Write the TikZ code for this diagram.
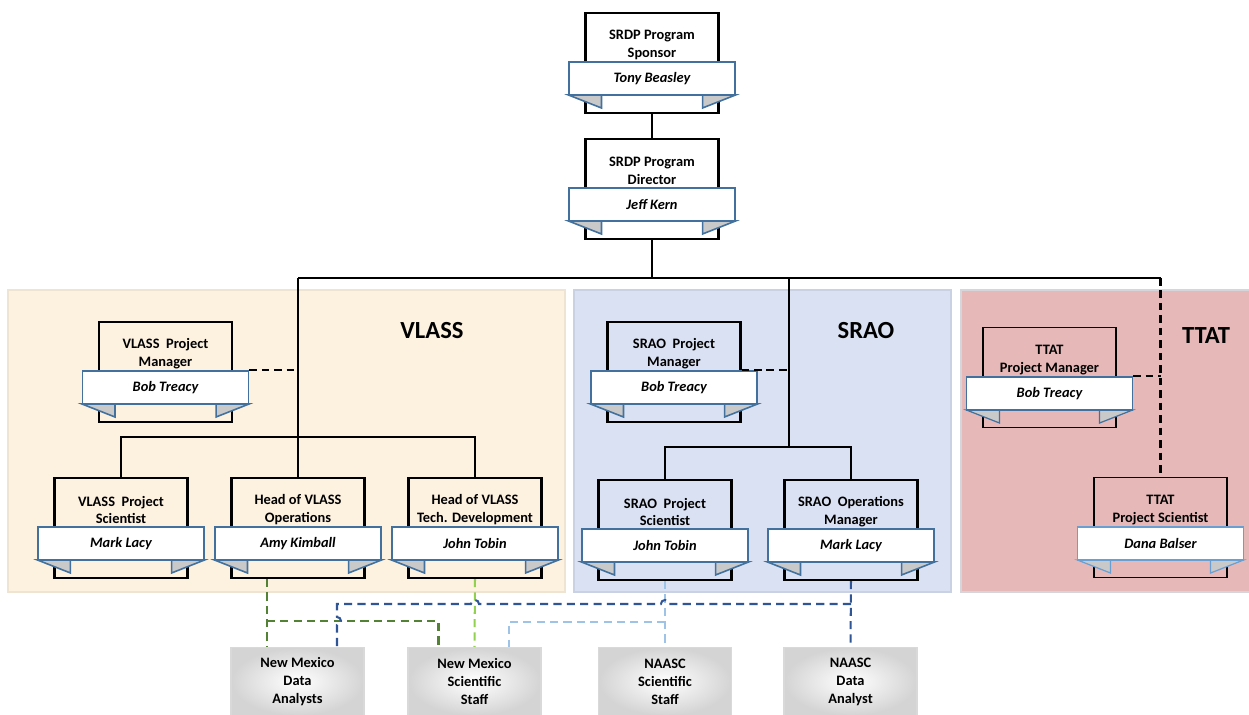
\documentclass[tikz,border=0pt]{standalone}
\usepackage{fontspec}
\setmainfont{Carlito}
\usetikzlibrary{calc}
\definecolor{ribbonblue}{HTML}{41719C}
\definecolor{ribbonlight}{HTML}{6A9FD2}
\definecolor{tailgray}{HTML}{C9C9C9}
\definecolor{vlassbg}{HTML}{FDF1E0}
\definecolor{vlassedge}{HTML}{EFE3D2}
\definecolor{sraobg}{HTML}{DAE1F2}
\definecolor{sraoedge}{HTML}{C9D1E3}
\definecolor{ttatbg}{HTML}{E6B9B8}
\definecolor{ttatedge}{HTML}{D6D6DA}
\definecolor{dkgreen}{HTML}{548235}
\definecolor{limegreen}{HTML}{92D050}
\definecolor{ltblue}{HTML}{9DC3E6}
\definecolor{dkblue}{HTML}{2F5597}
\def\boxlw{1.2pt}
\def\riblw{0.9pt}
\def\ribcol{ribbonblue}
\tikzset{
  txt/.style={font=\bfseries\fontsize{8.2}{10.2}\selectfont},
  cardbox/.style={draw=black, line width=\boxlw, minimum width=2.66cm, minimum height=2cm, inner sep=0pt, anchor=north},
  cardtitle/.style={txt, align=center, inner sep=0pt},
  ribbon/.style={draw=\ribcol, fill=white, line width=\riblw, minimum width=3.32cm, minimum height=0.66cm, inner sep=0pt, font=\bfseries\itshape\fontsize{8.2}{10.2}\selectfont},
  tail/.style={fill=tailgray, draw=\ribcol, line width=\riblw, line join=miter},
  conn/.style={draw=black, line width=1.25pt},
  blkdash/.style={draw=black, line width=1.2pt, dash pattern=on 4.3pt off 2.8pt},
  coldash/.style={line width=1.15pt, dash pattern=on 4.6pt off 3pt},
  gdash/.style={coldash, draw=dkgreen},
  ldash/.style={coldash, draw=limegreen},
  lbdash/.style={coldash, draw=ltblue},
  dbdash/.style={coldash, draw=dkblue},
  staffbox/.style={txt, align=center, anchor=north, minimum width=2.66cm, minimum height=1.36cm, inner sep=0pt, draw=black!15, line width=0.6pt, inner color=white, outer color=black!17},
  paneltitle/.style={font=\bfseries\fontsize{14}{16}\selectfont, inner sep=0pt}
}
\newcommand{\orgcard}[5]{%
  \node[cardbox] (#1) at (#2,#3) {};
  \node[cardtitle] (#1-t) at ($(#1.north)+(0,33)$) {#4};
  \coordinate (#1-rl) at ($(#1.north west)+(-16,83)$);
  \coordinate (#1-rr) at ($(#1.north east)+(16,83)$);
  \draw[tail] (#1-rl) -- ++(33,13) -- ++(0,-13) -- cycle;
  \draw[tail] (#1-rr) -- ++(-33,13) -- ++(0,-13) -- cycle;
  \node[ribbon] (#1-r) at ($(#1.north)+(0,66.5)$) {#5};
}
\begin{document}
\begin{tikzpicture}[x=0.02cm,y=-0.02cm]
\useasboundingbox (0,0) rectangle (1249,715);
\fill[white] (0,0) rectangle (1249,715);
% panels
\draw[fill=vlassbg, draw=vlassedge, line width=0.8pt] (8,290) rectangle (565,592);
\draw[fill=sraobg, draw=sraoedge, line width=0.8pt] (574,290) rectangle (951,592);
\draw[fill=ttatbg, draw=ttatedge, line width=0.8pt] (961,290) rectangle (1252,592);
\node[paneltitle] (vlasst) at (432,331) {VLASS};
\node[paneltitle] (sraot) at (866,331) {SRAO};
\node[paneltitle] (ttatt) at (1206,336) {TTAT};
% coordinates for connectors
\coordinate (hub) at (652,278);
\coordinate (vsplit) at (298,437);
\coordinate (ssplit) at (789,447);
\coordinate (gy) at (0,621);
\coordinate (lby) at (0,622);
\coordinate (dby) at (0,604);
% cards
\orgcard{sponsor}{652}{12}{SRDP Program\\Sponsor}{Tony Beasley}
\orgcard{director}{652}{138}{SRDP Program\\Director}{Jeff Kern}
\orgcard{vpm}{165.5}{321}{VLASS\ \ Project\\Manager}{Bob Treacy}
\orgcard{vps}{121}{477}{VLASS\ \ Project\\Scientist}{Mark Lacy}
\orgcard{vho}{298}{477}{Head of VLASS\\Operations}{Amy Kimball}
\orgcard{vtd}{475}{477}{Head of VLASS\\Tech. Development}{John Tobin}
\orgcard{spm}{674}{321}{SRAO\ \ Project\\Manager}{Bob Treacy}
\orgcard{sps}{665}{479}{SRAO\ \ Project\\Scientist}{John Tobin}
\orgcard{som}{851}{479}{SRAO\ \ Operations\\Manager}{Mark Lacy}
\def\boxlw{0.7pt}\def\riblw{0.7pt}
\orgcard{tpm}{1049.5}{327}{TTAT\\Project Manager}{Bob Treacy}
\def\ribcol{ribbonlight}
\orgcard{tps}{1160.5}{477}{TTAT\\Project Scientist}{Dana Balser}
% staff boxes
\node[staffbox] (b1) at (297.5,647) {New Mexico\\Data\\Analysts};
\node[staffbox] (b2) at (474.5,647) {New Mexico\\Scientific\\Staff};
\node[staffbox] (b3) at (665,647) {NAASC\\Scientific\\Staff};
\node[staffbox] (b4) at (850.5,647) {NAASC\\Data\\Analyst};
% solid hierarchy
\draw[conn] (sponsor.south) -- (director.north);
\draw[conn] (director.south) -- (hub);
\draw[conn] (vsplit |- hub) -- (tps.north |- hub);
\draw[conn] (vsplit |- hub) -- (vho.north);
\draw[conn] (vps.north) |- (vsplit) -| (vtd.north);
\draw[conn] (ssplit |- hub) -- (ssplit);
\draw[conn] (sps.north) |- (ssplit) -| (som.north);
% dashed links
\draw[blkdash] (tps.north |- hub) -- (tps.north);
\draw[blkdash] (vpm-r.north east) -- (vpm-r.north east -| vsplit);
\draw[blkdash] (spm.east |- spm-r.north) -- (spm-r.north -| ssplit);
\draw[blkdash] (tpm-r.north east) -- (tpm-r.north east -| tps.north);
% coloured staff links
\coordinate (gx) at ($(vho.south)+(-31,0)$);
\coordinate (g2x) at ($(b2.north)+(-36,0)$);
\coordinate (lbx) at ($(b2.north)+(34.5,0)$);
\coordinate (b1x) at ($(b1.north)+(39.5,0)$);
\draw[gdash] (gx) -- (gx |- b1.north);
\draw[gdash] (gx |- gy) -| (g2x |- b2.north);
\draw[ldash] (vtd.south) -- (b2.north);
\draw[lbdash] (sps.south) -- (b3.north);
\draw[lbdash] (sps.south |- lby) -| (lbx |- b2.north);
\draw[dbdash] (som.south) -- (b4.north);
\draw[dbdash] (som.south |- dby) -- ($(sps.south |- dby)+(4,0)$)
  arc[start angle=0,end angle=180,radius=2.3pt]
  -- ($(vtd.south |- dby)+(4,0)$)
  arc[start angle=0,end angle=180,radius=2.3pt]
  -- (b1x |- dby) -- ($(b1x |- gy)+(0,-4)$)
  arc[start angle=90,end angle=-90,radius=2.3pt]
  -- (b1x |- b1.north);
\end{tikzpicture}
\end{document}
